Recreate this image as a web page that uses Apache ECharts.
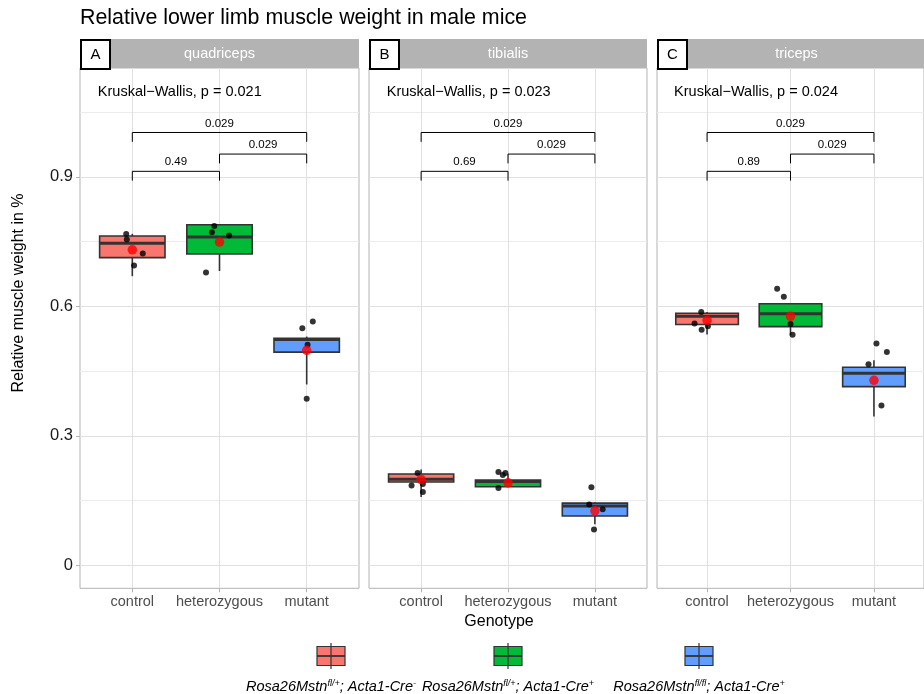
<!DOCTYPE html>
<html><head><meta charset="utf-8">
<script src="https://cdn.jsdelivr.net/npm/echarts@6/dist/echarts.min.js"></script>
<style>html,body{margin:0;padding:0;background:#fff}#c{width:924px;height:694px}</style>
</head><body><div id="c"></div>
<script>
// ---------------- data ----------------
const categories = ['control', 'heterozygous', 'mutant'];
const panelNames = ['quadriceps', 'tibialis', 'triceps'];
const panelTags = ['A', 'B', 'C'];
const kruskalP = ['0.021', '0.023', '0.024'];
const pairLabels = [['0.49', '0.029', '0.029'], ['0.69', '0.029', '0.029'], ['0.89', '0.029', '0.029']];
const bracketPairs = [[0, 1], [1, 2], [0, 2]];
const bracketHeights = [0.913, 0.953, 1.003];
const yTicks = [0, 0.3, 0.6, 0.9];
const yMinorTicks = [0.15, 0.45, 0.75, 1.05];
const legendLabels = [
  ['Rosa26Mstn', 'fl/+', '; Acta1-Cre', '-'],
  ['Rosa26Mstn', 'fl/+', '; Acta1-Cre', '+'],
  ['Rosa26Mstn', 'fl/fl', '; Acta1-Cre', '+']
];
// box stats: [lower whisker, Q1, median, Q3, upper whisker]
const boxQuadriceps = [[0.670, 0.713, 0.746, 0.763, 0.768], [0.682, 0.7215, 0.761, 0.789, 0.789], [0.419, 0.494, 0.523, 0.526, 0.530]];
const boxTibialis = [[0.158, 0.193, 0.199, 0.2115, 0.222], [0.182, 0.182, 0.194, 0.1977, 0.212], [0.095, 0.114, 0.137, 0.144, 0.146]];
const boxTriceps = [[0.535, 0.558, 0.577, 0.584, 0.587], [0.533, 0.553, 0.583, 0.606, 0.606], [0.345, 0.414, 0.445, 0.459, 0.475]];
const meanQuadriceps = [0.731, 0.749, 0.498];
const meanTibialis = [0.1985, 0.191, 0.126];
const meanTriceps = [0.5675, 0.577, 0.4285];
// individual animals (y) and their horizontal jitter (category units)
const ptsQuadriceps = [[0.768, 0.755, 0.7225, 0.695], [0.7865, 0.772, 0.764, 0.6785], [0.549, 0.565, 0.511, 0.386]];
const jitQuadriceps = [[-0.07, -0.063, 0.12, 0.02], [-0.06, -0.087, 0.11, -0.155], [-0.05, 0.07, 0.01, 0]];
const ptsTibialis = [[0.214, 0.185, 0.188, 0.170], [0.216, 0.209, 0.214, 0.179], [0.181, 0.141, 0.130, 0.083]];
const jitTibialis = [[-0.04, -0.11, 0.02, 0.02], [-0.11, -0.06, -0.03, -0.11], [-0.04, -0.065, 0.09, -0.01]];
const ptsTriceps = [[0.587, 0.560, 0.546, 0.554], [0.641, 0.622, 0.559, 0.534], [0.514, 0.494, 0.466, 0.370]];
const jitTriceps = [[-0.07, -0.15, -0.065, 0.01], [-0.16, -0.08, 0, 0.025], [0.03, 0.155, -0.065, 0.09]];

// ---------------- style / layout ----------------
const FONT = '"Liberation Sans", Arial, Helvetica, sans-serif';
const fills = ['#F8766D', '#00BA38', '#619CFF'];
const boxes = [boxQuadriceps, boxTibialis, boxTriceps];
const means = [meanQuadriceps, meanTibialis, meanTriceps];
const pts = [ptsQuadriceps, ptsTibialis, ptsTriceps];
const jits = [jitQuadriceps, jitTibialis, jitTriceps];
const gridLeft = [80, 369, 657];
const gridWidth = [279, 278, 279];
const gridTop = 68, gridHeight = 520.3;
const Y_MIN = -0.0535, Y_MAX = 1.1525;

const grids = [], xAxes = [], yAxes = [], series = [], graphics = [];

for (let i = 0; i < 3; i++) {
  grids.push({left: gridLeft[i], top: gridTop, width: gridWidth[i], height: gridHeight,
    show: true, borderColor: '#b3b3b3', borderWidth: 1, backgroundColor: '#fff'});
  xAxes.push({gridIndex: i, type: 'value', min: -0.6, max: 2.6, position: 'bottom',
    axisLine: {show: false, onZero: false},
    axisTick: {show: true, customValues: [0, 1, 2], length: 4, lineStyle: {color: '#b3b3b3'}},
    axisLabel: {show: true, customValues: [0, 1, 2], formatter: v => categories[Math.round(v)],
      fontSize: 14.5, color: '#4d4d4d', fontFamily: FONT, margin: 6},
    splitLine: {show: true, lineStyle: {color: '#e0e0e0', width: 1}}});
  yAxes.push({gridIndex: i, type: 'value', min: Y_MIN, max: Y_MAX, position: 'left',
    axisLine: {show: false, onZero: false},
    axisTick: {show: i === 0, customValues: yTicks, length: 4, lineStyle: {color: '#b3b3b3'}},
    axisLabel: {show: i === 0, customValues: yTicks, formatter: v => (v === 0 ? '0' : v.toFixed(1)),
      fontSize: 16.5, color: '#1a1a1a', fontFamily: FONT, margin: 7},
    splitLine: {show: true, lineStyle: {color: '#e0e0e0', width: 1}}});
  yAxes.push({gridIndex: i, type: 'value', min: Y_MIN, max: Y_MAX, position: 'right',
    axisLine: {show: false, onZero: false},
    axisTick: {show: false, customValues: yMinorTicks},
    axisLabel: {show: false, customValues: yMinorTicks},
    splitLine: {show: true, lineStyle: {color: '#ececec', width: 1}}});
  const yIdx = i * 2;

  // boxes
  const b = boxes[i];
  series.push({type: 'custom', xAxisIndex: i, yAxisIndex: yIdx, z: 2,
    data: b.map((s, k) => [k, s[0], s[1], s[2], s[3], s[4]]),
    renderItem: (params, api) => {
      const k = api.value(0);
      const cx = api.coord([k, 0])[0];
      const w = api.size([0.75, 0])[0];
      const yLo = api.coord([k, api.value(1)])[1];
      const yQ1 = api.coord([k, api.value(2)])[1];
      const yMed = api.coord([k, api.value(3)])[1];
      const yQ3 = api.coord([k, api.value(4)])[1];
      const yHi = api.coord([k, api.value(5)])[1];
      const st = {stroke: '#333333', lineWidth: 1.6};
      return {type: 'group', children: [
        {type: 'line', shape: {x1: cx, y1: yLo, x2: cx, y2: yQ1}, style: st},
        {type: 'line', shape: {x1: cx, y1: yQ3, x2: cx, y2: yHi}, style: st},
        {type: 'rect', shape: {x: cx - w / 2, y: yQ3, width: w, height: yQ1 - yQ3},
          style: {fill: fills[k], stroke: '#333333', lineWidth: 1.6}},
        {type: 'line', shape: {x1: cx - w / 2, y1: yMed, x2: cx + w / 2, y2: yMed},
          style: {stroke: '#333333', lineWidth: 3}}
      ]};
    }});

  // individual points
  const pdata = [];
  pts[i].forEach((arr, k) => arr.forEach((v, m) => pdata.push([k + jits[i][k][m], v])));
  series.push({type: 'scatter', xAxisIndex: i, yAxisIndex: yIdx, z: 3, data: pdata,
    symbol: 'circle', symbolSize: 6, itemStyle: {color: '#000'}, silent: true});
  // means
  series.push({type: 'scatter', xAxisIndex: i, yAxisIndex: yIdx, z: 4,
    data: means[i].map((v, k) => [k, v]),
    symbol: 'circle', symbolSize: 9.5, itemStyle: {color: '#ff0000'}, silent: true});

  // significance brackets
  series.push({type: 'custom', xAxisIndex: i, yAxisIndex: yIdx, z: 5,
    data: bracketPairs.map((p, j) => [p[0], p[1], bracketHeights[j]]),
    renderItem: (params, api) => {
      const j = params.dataIndex;
      const h = api.value(2);
      const p1 = api.coord([api.value(0), h]);
      const p2 = api.coord([api.value(1), h]);
      const tl = api.size([0, 0.0216])[1];
      return {type: 'group', children: [
        {type: 'polyline', shape: {points: [[p1[0], p1[1] + tl], [p1[0], p1[1]], [p2[0], p2[1]], [p2[0], p2[1] + tl]]},
          style: {stroke: '#000', fill: null, lineWidth: 1}},
        {type: 'text', style: {text: pairLabels[i][j], x: (p1[0] + p2[0]) / 2, y: p1[1] - 3,
          align: 'center', verticalAlign: 'bottom', fontSize: 11.5, fontFamily: FONT, fill: '#000'}}
      ]};
    }});

  // Kruskal-Wallis label
  series.push({type: 'custom', xAxisIndex: i, yAxisIndex: yIdx, z: 5,
    data: [[-0.395, 1.098]],
    renderItem: (params, api) => {
      const p = api.coord([api.value(0), api.value(1)]);
      return {type: 'text', style: {text: 'Kruskal\u2212Wallis, p = ' + kruskalP[i], x: p[0], y: p[1],
        align: 'left', verticalAlign: 'middle', fontSize: 14.5, fontFamily: FONT, fill: '#000'}};
    }});

  // strip + tag
  graphics.push({type: 'rect', shape: {x: gridLeft[i], y: 39, width: gridWidth[i], height: gridTop - 39},
    style: {fill: '#b3b3b3'}, z: 10});
  graphics.push({type: 'text', x: gridLeft[i] + gridWidth[i] / 2, y: 54,
    style: {text: panelNames[i], align: 'center', verticalAlign: 'middle', fontSize: 14.5,
      fontFamily: FONT, fill: '#ffffff'}, z: 11});
  graphics.push({type: 'rect', shape: {x: gridLeft[i] + 1, y: 40, width: 29, height: 29},
    style: {fill: '#fff', stroke: '#000', lineWidth: 2}, z: 12});
  graphics.push({type: 'text', x: gridLeft[i] + 15.5, y: 54.5,
    style: {text: panelTags[i], align: 'center', verticalAlign: 'middle', fontSize: 15,
      fontFamily: FONT, fill: '#000'}, z: 13});
}

// titles
graphics.push({type: 'text', x: 80, y: 18, style: {text: 'Relative lower limb muscle weight in male mice',
  align: 'left', verticalAlign: 'middle', fontSize: 21.4, fontFamily: FONT, fill: '#000'}});
graphics.push({type: 'text', x: 19, y: 293, rotation: Math.PI / 2, style: {text: 'Relative muscle weight in %',
  align: 'center', verticalAlign: 'middle', fontSize: 16, fontFamily: FONT, fill: '#000'}});
graphics.push({type: 'text', x: 499, y: 622, style: {text: 'Genotype',
  align: 'center', verticalAlign: 'middle', fontSize: 16, fontFamily: FONT, fill: '#000'}});

// legend
const legendX = [331, 508, 699];
legendX.forEach((cx, k) => {
  graphics.push({type: 'rect', shape: {x: cx - 14, y: 646.5, width: 28, height: 19},
    style: {fill: fills[k], stroke: '#333333', lineWidth: 1.2}});
  graphics.push({type: 'line', shape: {x1: cx - 14, y1: 656, x2: cx + 14, y2: 656},
    style: {stroke: '#333333', lineWidth: 1.8}});
  graphics.push({type: 'line', shape: {x1: cx, y1: 643, x2: cx, y2: 669},
    style: {stroke: '#333333', lineWidth: 1.2}});
  const L = legendLabels[k];
  graphics.push({type: 'text', x: cx, y: 687, style: {
    text: '{n|' + L[0] + '}{s|' + L[1] + '}{n|' + L[2] + '}{s|' + L[3] + '}',
    align: 'center', verticalAlign: 'middle',
    rich: {
      n: {fontSize: 14.5, fontStyle: 'italic', fontFamily: FONT, fill: '#000', lineHeight: 17},
      s: {fontSize: 9, fontStyle: 'italic', fontFamily: FONT, fill: '#000', verticalAlign: 'top', lineHeight: 10}
    }}});
});

const chart = echarts.init(document.getElementById('c'), null, {renderer: 'canvas'});
chart.setOption({
  animation: false,
  backgroundColor: '#fff',
  grid: grids, xAxis: xAxes, yAxis: yAxes, series: series, graphic: graphics
});
</script></body></html>
